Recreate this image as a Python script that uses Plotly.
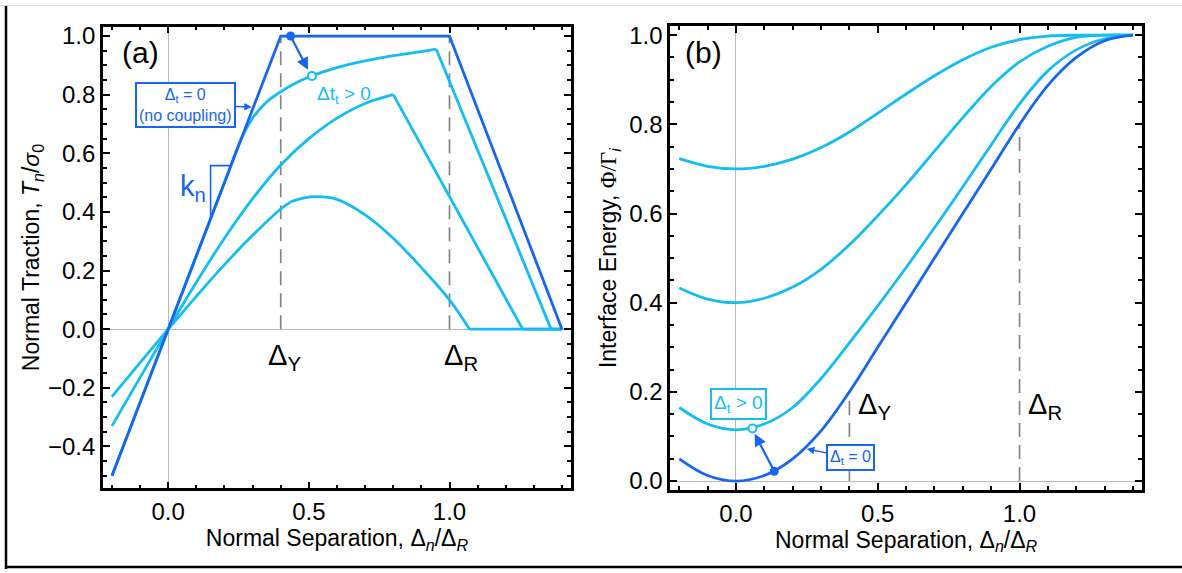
import plotly.graph_objects as go

# ---------------- data ----------------
# Panel (a): normal traction T_n/sigma_0 vs normal separation Delta_n/Delta_R
trac_dark_x = [-0.2, 0.4, 1.0, 1.4]
trac_dark_y = [-0.5, 1.0, 1.0, 0.0]

trac_a_x = [-0.2, 0.0, 0.1, 0.2, 0.26, 0.3, 0.35, 0.4, 0.45, 0.5, 0.6, 0.7, 0.8, 0.9, 0.953, 1.361, 1.4]
trac_a_y = [-0.5, 0.0, 0.25, 0.5, 0.65, 0.72, 0.775, 0.81, 0.838, 0.86, 0.892, 0.915, 0.933, 0.947, 0.955, 0.0, 0.0]
trac_a_corners = [14, 15]

trac_b_x = [-0.2, 0.0, 0.1, 0.2, 0.3, 0.4, 0.5, 0.6, 0.7, 0.8, 1.26, 1.4]
trac_b_y = [-0.33, 0.0, 0.16, 0.31, 0.445, 0.56, 0.65, 0.72, 0.77, 0.80, 0.0, 0.0]
trac_b_corners = [9, 10]

trac_c_x = [-0.2, 0.0, 0.1, 0.2, 0.3, 0.4, 0.437, 0.48, 0.528, 0.6, 0.7, 0.8, 0.9, 1.0, 1.071, 1.4]
trac_c_y = [-0.23, 0.0, 0.112, 0.22, 0.32, 0.41, 0.435, 0.447, 0.452, 0.443, 0.39, 0.31, 0.21, 0.10, 0.0, 0.0]
trac_c_corners = [6, 14]

DELTA_Y = 0.4
DELTA_R = 1.0

# Panel (b): interface energy Phi/Gamma_i vs normal separation
phi_x = [-0.2, -0.1, 0.0, 0.1, 0.2, 0.3, 0.4, 0.5, 0.6, 0.7, 0.8, 0.9, 1.0, 1.1, 1.2, 1.3, 1.4]
phi_dark = [0.05, 0.0125, 0.0, 0.0125, 0.05, 0.1125, 0.2, 0.3, 0.4, 0.5, 0.6, 0.7, 0.8, 0.8875, 0.95, 0.9875, 1.0]
phi_a = [0.165, 0.128, 0.115, 0.128, 0.165, 0.23, 0.31, 0.393, 0.479, 0.568, 0.66, 0.754, 0.846, 0.92, 0.967, 0.992, 1.0]
phi_b = [0.433, 0.408, 0.40, 0.41, 0.435, 0.475, 0.53, 0.595, 0.665, 0.74, 0.815, 0.885, 0.94, 0.975, 0.995, 1.0, 1.0]
phi_c = [0.723, 0.706, 0.70, 0.706, 0.722, 0.748, 0.783, 0.825, 0.868, 0.909, 0.945, 0.973, 0.99, 0.998, 1.0, 1.0, 1.0]
phi_dash_top = [0.2, 0.8]   # dark-curve energy at Delta_Y and Delta_R

# highlighted points
a_dot = (0.435, 1.0)
a_circle = (0.511, 0.864)
b_dot = (0.135, 0.022)
b_circle = (0.058, 0.118)

# ---------------- styling ----------------
DARK = "#1766F0"
LIGHT = "#14BDF2"
GRAY = "#858585"
FONT = "Liberation Sans, Arial, sans-serif"
LW = 2.8

fig = go.Figure()


def add_piecewise(xs, ys, corners, color, xa, ya):
    cuts = [0] + list(corners) + [len(xs) - 1]
    for i in range(len(cuts) - 1):
        s, e = cuts[i], cuts[i + 1]
        px = xs[s:e + 1]
        py = ys[s:e + 1]
        fig.add_trace(go.Scatter(
            x=px, y=py, mode="lines", xaxis=xa, yaxis=ya,
            line=dict(color=color, width=LW, shape="spline" if len(px) > 2 else "linear"),
            hoverinfo="skip", showlegend=False))


# dashed reference lines, panel (a)
for xv in (DELTA_Y, DELTA_R):
    fig.add_trace(go.Scatter(x=[xv, xv], y=[0, 1.0], mode="lines", xaxis="x", yaxis="y",
                             line=dict(color=GRAY, width=1.7, dash="14px,8px"),
                             hoverinfo="skip", showlegend=False))
# dashed reference lines, panel (b)
for xv, yv in zip((DELTA_Y, DELTA_R), phi_dash_top):
    fig.add_trace(go.Scatter(x=[xv, xv], y=[0, yv], mode="lines", xaxis="x2", yaxis="y2",
                             line=dict(color=GRAY, width=1.7, dash="14px,8px"),
                             hoverinfo="skip", showlegend=False))

# panel (a) curves
add_piecewise(trac_c_x, trac_c_y, trac_c_corners, LIGHT, "x", "y")
add_piecewise(trac_b_x, trac_b_y, trac_b_corners, LIGHT, "x", "y")
add_piecewise(trac_a_x, trac_a_y, trac_a_corners, LIGHT, "x", "y")
fig.add_trace(go.Scatter(x=trac_dark_x, y=trac_dark_y, mode="lines", xaxis="x", yaxis="y",
                         line=dict(color=DARK, width=LW), hoverinfo="skip", showlegend=False))

# panel (b) curves
for ys in (phi_c, phi_b, phi_a):
    fig.add_trace(go.Scatter(x=phi_x, y=ys, mode="lines", xaxis="x2", yaxis="y2",
                             line=dict(color=LIGHT, width=LW, shape="spline"),
                             hoverinfo="skip", showlegend=False))
fig.add_trace(go.Scatter(x=phi_x, y=phi_dark, mode="lines", xaxis="x2", yaxis="y2",
                         line=dict(color=DARK, width=LW, shape="spline"),
                         hoverinfo="skip", showlegend=False))

# k_n slope triangle (panel a)
kn_x = [0.1507, 0.1507, 0.223]
kn_y = [0.377, 0.558, 0.558]
fig.add_trace(go.Scatter(x=kn_x, y=kn_y, mode="lines", xaxis="x", yaxis="y",
                         line=dict(color=DARK, width=1.6), hoverinfo="skip", showlegend=False))

# arrows between markers
arrow_common = dict(showarrow=True, arrowhead=2, arrowsize=1.1, arrowwidth=2.2,
                    arrowcolor=DARK, text="")
fig.add_annotation(x=0.497, y=0.885, ax=a_dot[0], ay=a_dot[1], xref="x", yref="y",
                   axref="x", ayref="y", **arrow_common)
fig.add_annotation(x=0.066, y=0.106, ax=b_dot[0], ay=b_dot[1], xref="x2", yref="y2",
                   axref="x2", ayref="y2", **arrow_common)

# markers
fig.add_trace(go.Scatter(x=[a_dot[0]], y=[a_dot[1]], mode="markers", xaxis="x", yaxis="y",
                         marker=dict(color=DARK, size=9), hoverinfo="skip", showlegend=False))
fig.add_trace(go.Scatter(x=[a_circle[0]], y=[a_circle[1]], mode="markers", xaxis="x", yaxis="y",
                         marker=dict(color="white", size=8, line=dict(color=LIGHT, width=2)),
                         hoverinfo="skip", showlegend=False))
fig.add_trace(go.Scatter(x=[b_dot[0]], y=[b_dot[1]], mode="markers", xaxis="x2", yaxis="y2",
                         marker=dict(color=DARK, size=9), hoverinfo="skip", showlegend=False))
fig.add_trace(go.Scatter(x=[b_circle[0]], y=[b_circle[1]], mode="markers", xaxis="x2", yaxis="y2",
                         marker=dict(color="white", size=8, line=dict(color=LIGHT, width=2)),
                         hoverinfo="skip", showlegend=False))

# ---------------- text annotations ----------------
def txt(x, y, text, size, color="black", xref="x", yref="y", **kw):
    fig.add_annotation(x=x, y=y, xref=xref, yref=yref, text=text, showarrow=False,
                       font=dict(family=FONT, size=size, color=color), **kw)


txt(-0.10, 0.945, "(a)", 30)
txt(-0.115, 0.962, "(b)", 30, xref="x2", yref="y2")
txt(0.415, -0.095, "Δ<sub>Y</sub>", 29)
txt(1.04, -0.095, "Δ<sub>R</sub>", 29)
txt(0.49, 0.168, "Δ<sub>Y</sub>", 29, xref="x2", yref="y2")
txt(1.09, 0.168, "Δ<sub>R</sub>", 29, xref="x2", yref="y2")
txt(0.088, 0.48, "k<sub>n</sub>", 29, color=DARK)
txt(0.625, 0.80, "Δt<sub>t</sub> > 0", 19, color=LIGHT)

# boxed labels with arrows
fig.add_annotation(x=0.297, y=0.758, ax=0.062, ay=0.765, xref="x", yref="y", axref="x", ayref="y",
                   text="Δ<sub>t</sub> = 0<br>(no coupling)", showarrow=True, arrowhead=2,
                   arrowsize=1, arrowwidth=1.5, arrowcolor=DARK,
                   font=dict(family=FONT, size=16, color=DARK),
                   bordercolor=DARK, borderwidth=2, borderpad=2, bgcolor="white")
fig.add_annotation(x=0.01, y=0.173, xref="x2", yref="y2",
                   text="Δ<sub>t</sub> > 0", showarrow=False,
                   font=dict(family=FONT, size=19, color=LIGHT),
                   bordercolor=LIGHT, borderwidth=2, borderpad=2, bgcolor="white")
fig.add_annotation(x=0.25, y=0.072, ax=0.405, ay=0.052, xref="x2", yref="y2", axref="x2", ayref="y2",
                   text="Δ<sub>t</sub> = 0", showarrow=True, arrowhead=2,
                   arrowsize=1, arrowwidth=1.5, arrowcolor=DARK,
                   font=dict(family=FONT, size=16, color=DARK),
                   bordercolor=DARK, borderwidth=2, borderpad=2, bgcolor="white")

# ---------------- axes ----------------
TITLE_FONT = dict(family=FONT, size=23, color="black")


def axis_style(dtick, minor_dtick, rng, domain, **kw):
    d = dict(range=rng, domain=domain, showline=True, linecolor="black", linewidth=2.5,
             mirror="allticks", ticks="inside", ticklen=7, tickwidth=2, tickcolor="black",
             dtick=dtick, tick0=0, tickformat=".1f", showgrid=False,
             zeroline=True, zerolinecolor="#b9b9b9", zerolinewidth=1,
             tickfont=dict(family=FONT, size=24, color="black"),
             minor=dict(ticks="inside", ticklen=4, tickwidth=1.6, tickcolor="black",
                        dtick=minor_dtick, tick0=0, showgrid=False))
    d.update(kw)
    return d


xt = "Normal Separation, Δ<sub><i>n</i></sub>/Δ<sub><i>R</i></sub>"
fig.update_layout(
    width=1182, height=573,
    margin=dict(l=0, r=0, t=0, b=0),
    paper_bgcolor="white", plot_bgcolor="white",
    showlegend=False,
    font=dict(family=FONT, color="black"),
    xaxis=axis_style(0.5, 0.1, [-0.232, 1.432], [0.0871, 0.4831], anchor="y",
                     title=dict(text=xt, font=TITLE_FONT, standoff=6)),
    yaxis=axis_style(0.2, 0.05, [-0.543, 1.032], [0.1431, 0.9616], anchor="x",
                     title=dict(text="Normal Traction, <i>T<sub>n</sub></i>/<i>σ</i><sub>0</sub>",
                                font=TITLE_FONT, standoff=2)),
    xaxis2=axis_style(0.5, 0.1, [-0.232, 1.432], [0.567, 0.9662], anchor="y2",
                      title=dict(text=xt, font=TITLE_FONT, standoff=6)),
    yaxis2=axis_style(0.2, 0.05, [-0.02, 1.02], [0.1401, 0.9623], anchor="x2",
                      title=dict(text="Interface Energy, <span style='font-family:Liberation Serif'>Φ/Γ</span><sub><i>i</i></sub>",
                                 font=TITLE_FONT, standoff=7)),
)

# outer frame of the figure
fig.add_shape(type="line", xref="paper", yref="paper", x0=6 / 1182, x1=6 / 1182, y0=0.0, y1=1.0,
              line=dict(color="black", width=2.5))
fig.add_shape(type="line", xref="paper", yref="paper", x0=6 / 1182, x1=1.0, y0=1 - 571 / 573, y1=1 - 571 / 573,
              line=dict(color="black", width=2.5))
fig.add_shape(type="line", xref="paper", yref="paper", x0=0, x1=1.0, y0=1 - 0.5 / 573, y1=1 - 0.5 / 573,
              line=dict(color="#dddddd", width=1))

fig.write_html("out.html")
